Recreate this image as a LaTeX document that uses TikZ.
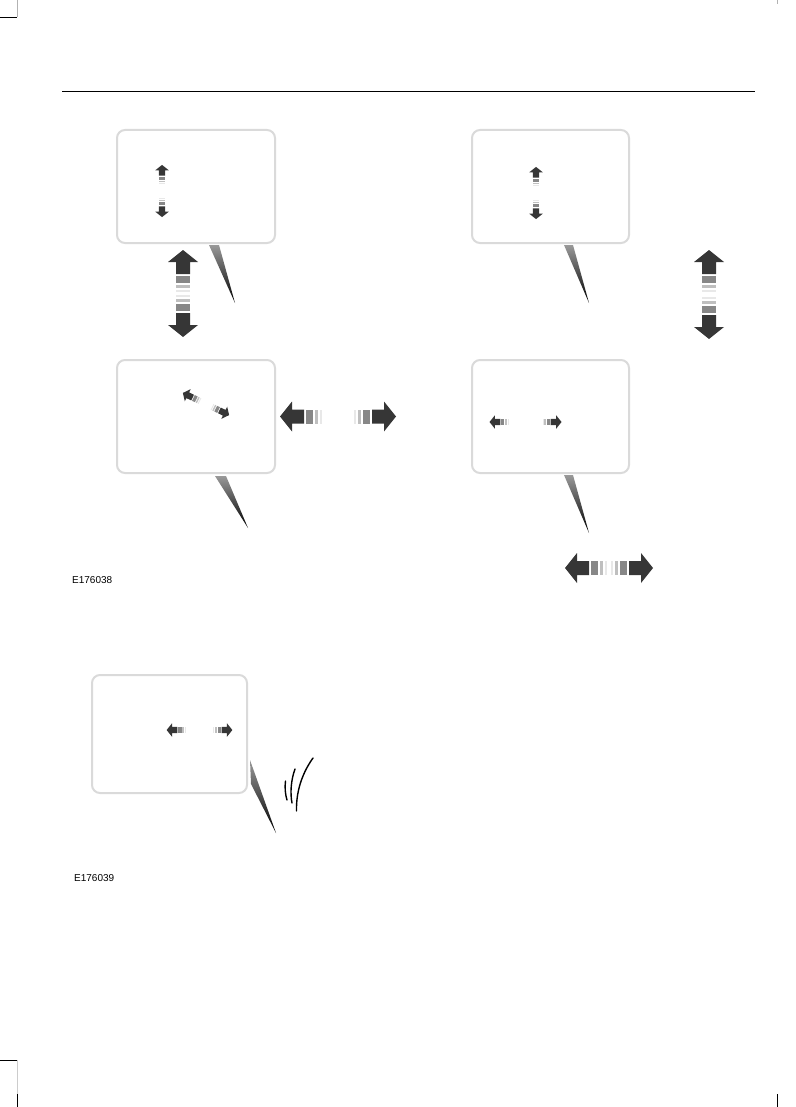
\documentclass[tikz,border=0pt]{standalone}
\usepackage{fontspec}
\setmainfont{Liberation Sans}
\usetikzlibrary{calc}
\definecolor{arrowdark}{HTML}{363636}
\definecolor{panelgray}{HTML}{DADADA}
\tikzset{
  panel/.style={draw=panelgray, line width=2pt, rounded corners=8pt},
  tail/.style={top color=black!40, bottom color=black},
  wave/.style={line width=1.4pt, line cap=round},
  crop/.style={line width=0.8pt},
  pics/dblarrow/.style={code={
    \foreach \s in {1,-1}{
      \fill[black!9]  ({\s*(#1)},-7) rectangle ({\s*(#1+2)},7);
      \fill[black!25] ({\s*(#1+4)},-7) rectangle ({\s*(#1+7)},7);
      \fill[black!47] ({\s*(#1+9)},-7) rectangle ({\s*(#1+16)},7);
      \fill[arrowdark] ({\s*(#1+18)},-7) -- ({\s*(#1+30)},-7) -- ({\s*(#1+30)},-15)
        -- ({\s*(#1+42)},0) -- ({\s*(#1+30)},15) -- ({\s*(#1+30)},7) -- ({\s*(#1+18)},7) -- cycle;
    }
  }}
}

\begin{document}
\begin{tikzpicture}[x=1pt, y=-1pt]
  \useasboundingbox (0,0) rectangle (795,1107);

  % 坐标点定义
  \coordinate (T1a) at (209,245);
  \coordinate (T1b) at (219,245);
  \coordinate (T1c) at (235,303);
  \coordinate (T2a) at (215,476);
  \coordinate (T2b) at (226,476);
  \coordinate (T2c) at (248,528);
  \coordinate (T3a) at (564,245);
  \coordinate (T3b) at (573,245);
  \coordinate (T3c) at (589,303);
  \coordinate (T4a) at (564,475);
  \coordinate (T4b) at (573,475);
  \coordinate (T4c) at (589,533);
  \coordinate (T5a) at (250,760);
  \coordinate (T5b) at (251,784);
  \coordinate (T5c) at (276,833);

  % 页眉与裁切线
  \draw[line width=1pt] (62,92) -- (755,92);
  \draw[crop] (0,17) -- (17,17);
  \draw[crop, black!30] (17,0) -- (17,17);
  \draw[crop, black!30] (777,0) -- (777,4);
  \draw[crop] (0,1060) -- (17,1060);
  \draw[crop, black!20] (17,1060) -- (17,1094);
  \draw[crop] (17,1094) -- (17,1107);
  \draw[crop] (777,1094) -- (777,1107);

  % 显示框
  \draw[panel] (117,130) rectangle (275,243);
  \draw[panel] (117,360) rectangle (275,473);
  \draw[panel] (472,130) rectangle (629,243);
  \draw[panel] (472,360) rectangle (629,473);
  \draw[panel] (92,675) rectangle (247,793);

  % 指示尖角
  \shade[tail] (T1a) -- (T1b) -- (T1c) -- cycle;
  \shade[tail] (T2a) -- (T2b) -- (T2c) -- cycle;
  \shade[tail] (T3a) -- (T3b) -- (T3c) -- cycle;
  \shade[tail] (T4a) -- (T4b) -- (T4c) -- cycle;
  \shade[tail] (T5a) -- (T5b) -- (T5c) -- cycle;

  % 框内小箭头
  \pic[rotate=90, scale=0.45] at (162,191) {dblarrow=16};
  \pic[rotate=90, scale=0.45] at (536,193) {dblarrow=16};
  \pic[rotate=-25.6, scale=0.45] at (206,404) {dblarrow=15};
  \pic[scale=0.45] at (525.5,422) {dblarrow=38};
  \pic[scale=0.45] at (199.5,730) {dblarrow=31};

  % 大箭头
  \pic[rotate=90] at (183,293.5) {dblarrow=1.5};
  \pic[rotate=90] at (709,294.5) {dblarrow=2.5};
  \pic at (338,416.5) {dblarrow=16};
  \pic at (609,568) {dblarrow=2};

  % 声波
  \draw[wave] (285.5,781) .. controls (284.5,788) and (285.5,795) .. (287,800);
  \draw[wave] (295,769) .. controls (291,780) and (290,793) .. (292,803);
  \draw[wave] (313,758) .. controls (303,772) and (296,790) .. (296.5,811);

  % 文本标签
  \node[anchor=west, font=\fontsize{10}{12}\selectfont, inner sep=0pt] (code1) at (72,580) {E176038};
  \node[anchor=west, font=\fontsize{10}{12}\selectfont, inner sep=0pt] (code2) at (74,878) {E176039};
\end{tikzpicture}
\end{document}
